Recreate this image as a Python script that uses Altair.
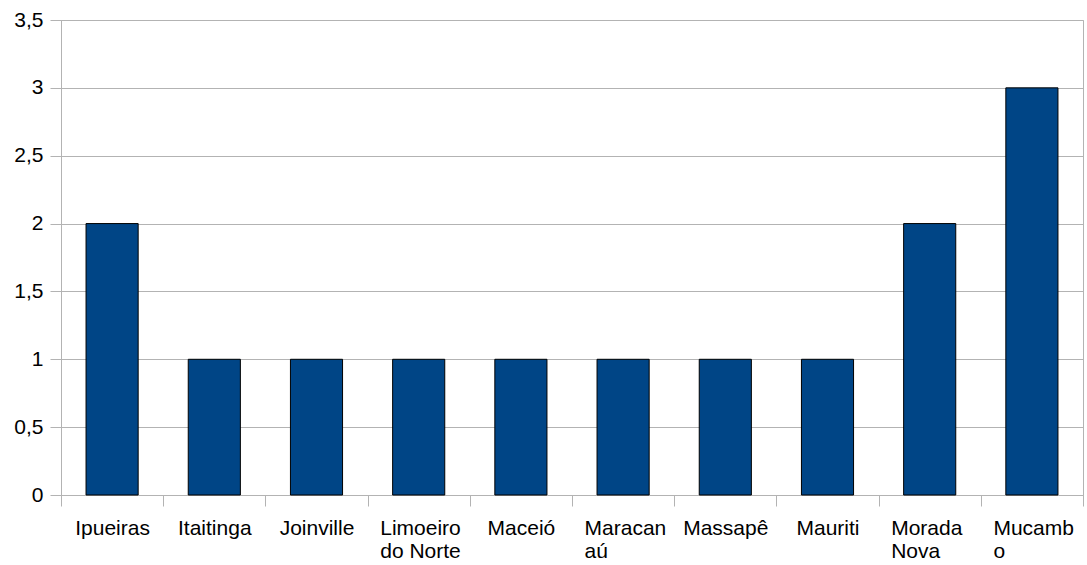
import altair as alt
import pandas as pd

# Category names ("|" marks where the axis label wraps) and counts
categories = [
    "Ipueiras",
    "Itaitinga",
    "Joinville",
    "Limoeiro|do Norte",
    "Maceió",
    "Maracan|aú",
    "Massapê",
    "Mauriti",
    "Morada|Nova",
    "Mucamb|o",
]
counts = [2, 1, 1, 1, 1, 1, 1, 1, 2, 3]

y_ticks = [0, 0.5, 1, 1.5, 2, 2.5, 3, 3.5]

df = pd.DataFrame({"cidade": categories, "valor": counts})

FONT = "Liberation Sans"
GRID = "#b3b3b3"
wrapped = "indexof('' + datum.value, '|') >= 0"

bars = alt.Chart(df).mark_bar(
    width={"band": 0.51},
    color="#004586",
    stroke="#000000",
    strokeWidth=1,
).encode(
    x=alt.X(
        "cidade:N",
        sort=None,
        title=None,
        scale=alt.Scale(paddingInner=0, paddingOuter=0),
        axis=alt.Axis(
            labelAngle=0,
            labelFont=FONT,
            labelFontSize=21,
            labelColor="#000000",
            labelLineHeight=23,
            labelBaseline="top",
            labelPadding=11,
            # wrapped labels: lines flush left, block roughly centred on the band
            labelAlign={"condition": {"test": wrapped, "value": "left"}, "value": "center"},
            labelOffset={"condition": {"test": wrapped, "value": -39}, "value": 0},
            labelExpr="split('' + datum.label, '|')",
            tickBand="extent",
            tickSize=11,
            tickColor=GRID,
            domainColor=GRID,
            grid=False,
        ),
    ),
    y=alt.Y(
        "valor:Q",
        title=None,
        scale=alt.Scale(domain=[0, 3.5], nice=False),
        axis=alt.Axis(
            values=y_ticks,
            labelFont=FONT,
            labelFontSize=21,
            labelColor="#000000",
            labelPadding=7,
            labelExpr="replace(format(datum.value, '~g'), '.', ',')",
            tickSize=11,
            tickColor=GRID,
            domainColor=GRID,
            gridColor=GRID,
            grid=True,
        ),
    ),
)

chart = bars.properties(
    width=1022,
    height=475,
    autosize=alt.AutoSizeParams(type="none"),
    padding={"left": 61, "top": 20, "right": 4, "bottom": 70},
    background="#ffffff",
).configure_view(
    stroke=GRID,
    strokeWidth=1,
)

chart.save("out.html", embed_options={"renderer": "svg", "actions": False})
